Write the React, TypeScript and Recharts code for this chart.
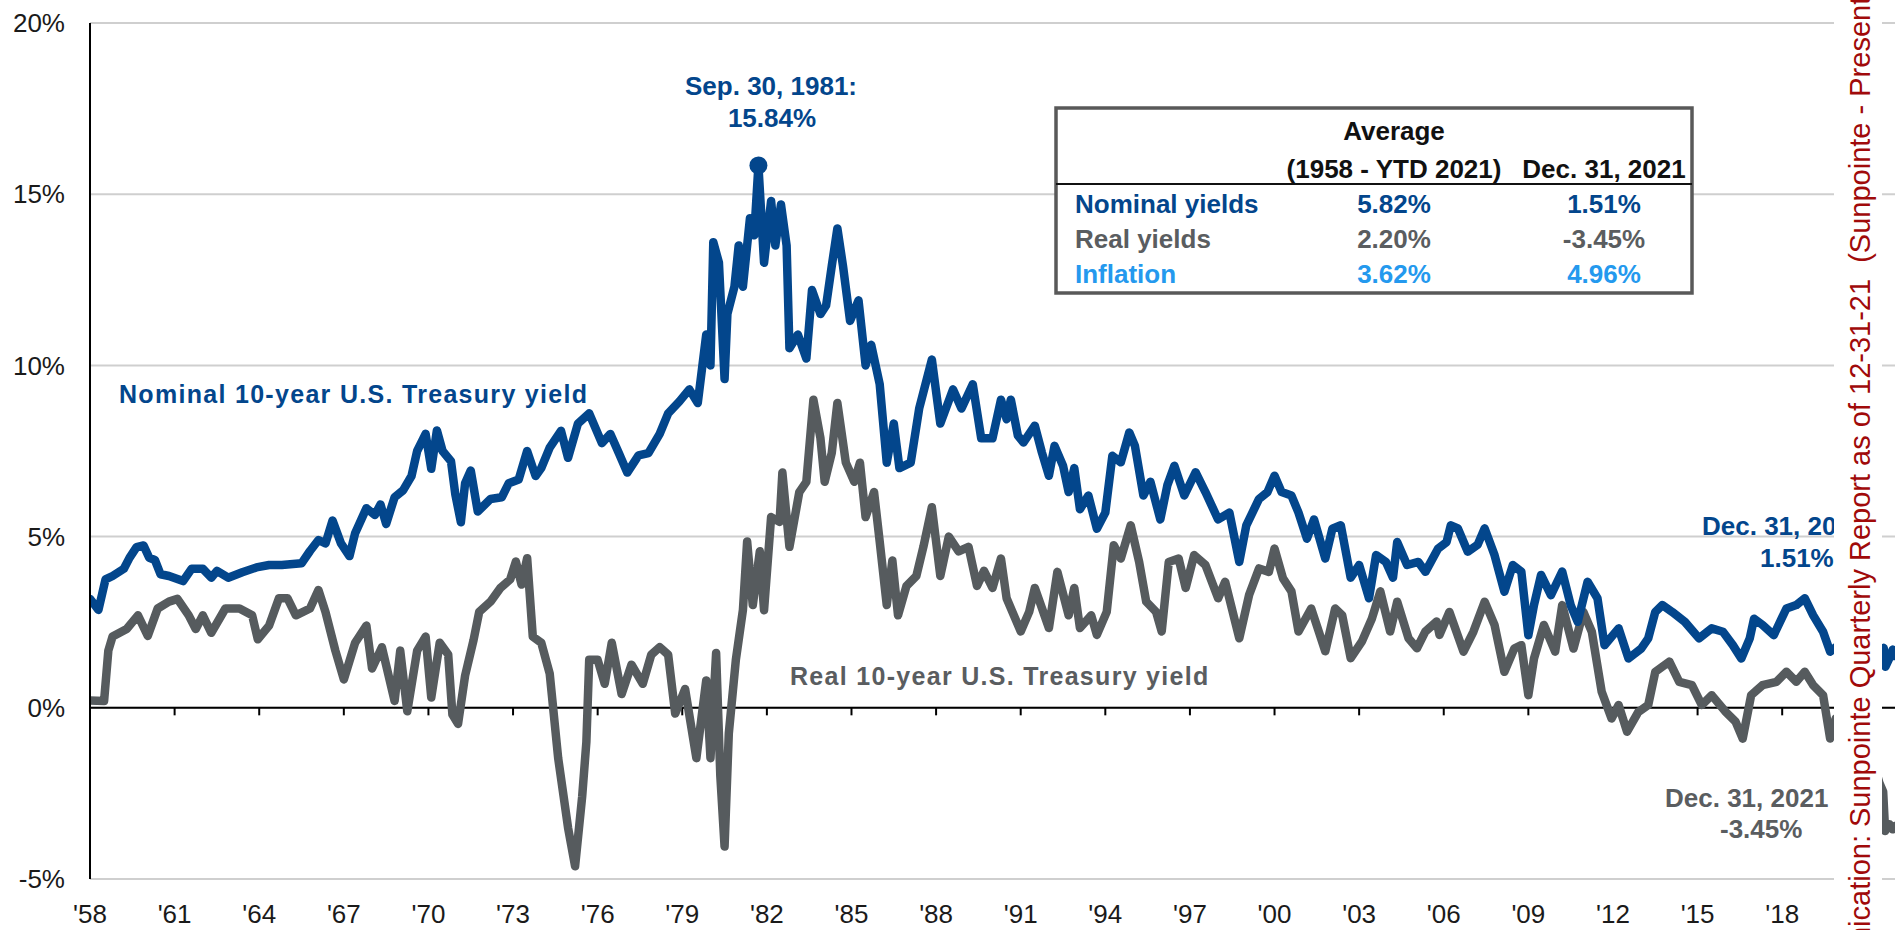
import React from 'react';
import { LineChart, Line, XAxis, YAxis, CartesianGrid, ReferenceLine, ReferenceDot } from 'recharts';

const FONT = 'Liberation Sans, Arial, Helvetica, sans-serif';
const BLUE = '#03468C';
const GRAY = '#565B5E';
const LIGHTBLUE = '#2499EE';
const RED = '#A00A0A';

const xTicks = [1958, 1961, 1964, 1967, 1970, 1973, 1976, 1979, 1982, 1985, 1988, 1991, 1994, 1997, 2000, 2003, 2006, 2009, 2012, 2015, 2018];
const zeroTicks = [1961, 1964, 1967, 1970, 1973, 1976, 1979, 1982, 1985, 1988, 1991, 1994, 1997, 2000, 2003, 2006, 2009, 2012, 2015, 2018];
const yTicks = [-5, 0, 5, 10, 15, 20];

// [year, percent]
const nominalSeries: [number, number][] = [
  [1958.0, 3.18], [1958.3, 2.86], [1958.55, 3.75], [1958.8, 3.85], [1959.2, 4.06], [1959.4, 4.38], [1959.65, 4.69], [1959.9, 4.74],
  [1960.1, 4.38], [1960.3, 4.32], [1960.5, 3.9], [1960.8, 3.85], [1961.3, 3.7], [1961.6, 4.06], [1962.0, 4.06], [1962.3, 3.8],
  [1962.5, 4.0], [1962.9, 3.8], [1963.4, 3.96], [1963.9, 4.1], [1964.35, 4.17], [1964.8, 4.17], [1965.5, 4.22], [1965.8, 4.58],
  [1966.1, 4.9], [1966.35, 4.8], [1966.6, 5.47], [1966.9, 4.8], [1967.2, 4.43], [1967.4, 5.1], [1967.8, 5.83], [1968.1, 5.63],
  [1968.3, 5.94], [1968.5, 5.37], [1968.8, 6.15], [1969.1, 6.35], [1969.4, 6.77], [1969.6, 7.5], [1969.9, 8.0], [1970.1, 6.98],
  [1970.3, 8.1], [1970.5, 7.5], [1970.8, 7.2], [1970.95, 6.25], [1971.15, 5.42], [1971.3, 6.56], [1971.5, 6.93], [1971.75, 5.73],
  [1972.2, 6.1], [1972.6, 6.15], [1972.85, 6.56], [1973.2, 6.67], [1973.5, 7.5], [1973.8, 6.77], [1974.0, 7.0], [1974.3, 7.6],
  [1974.7, 8.09], [1974.95, 7.3], [1975.3, 8.3], [1975.7, 8.6], [1976.15, 7.73], [1976.45, 8.0], [1976.75, 7.44], [1977.05, 6.87],
  [1977.45, 7.37], [1977.8, 7.44], [1978.2, 8.0], [1978.5, 8.6], [1978.9, 8.95], [1979.25, 9.3], [1979.55, 8.9], [1979.85, 10.9],
  [1980.0, 10.0], [1980.1, 13.6], [1980.3, 13.0], [1980.5, 9.6], [1980.6, 11.5], [1980.85, 12.3], [1981.0, 13.5], [1981.15, 12.3],
  [1981.4, 14.3], [1981.55, 13.8], [1981.7, 15.84], [1981.9, 13.0], [1982.15, 14.8], [1982.3, 13.5], [1982.5, 14.7], [1982.7, 13.5],
  [1982.8, 10.5], [1983.1, 10.9], [1983.4, 10.2], [1983.6, 12.2], [1983.9, 11.5], [1984.1, 11.75], [1984.3, 12.9], [1984.5, 14.0],
  [1984.7, 12.9], [1984.95, 11.3], [1985.25, 11.9], [1985.5, 10.0], [1985.7, 10.6], [1986.0, 9.45], [1986.25, 7.16], [1986.5, 8.3],
  [1986.7, 7.0], [1987.1, 7.16], [1987.4, 8.74], [1987.85, 10.17], [1988.15, 8.3], [1988.6, 9.3], [1988.9, 8.74], [1989.3, 9.45],
  [1989.6, 7.87], [1990.0, 7.87], [1990.3, 9.0], [1990.5, 8.43], [1990.65, 9.0], [1990.9, 7.95], [1991.1, 7.75], [1991.5, 8.24],
  [1991.75, 7.46], [1992.0, 6.78], [1992.2, 7.65], [1992.5, 7.07], [1992.7, 6.3], [1992.9, 7.0], [1993.1, 5.8], [1993.4, 6.2],
  [1993.7, 5.23], [1994.0, 5.7], [1994.25, 7.36], [1994.55, 7.17], [1994.85, 8.04], [1995.05, 7.65], [1995.35, 6.2], [1995.6, 6.6],
  [1995.95, 5.5], [1996.2, 6.5], [1996.45, 7.07], [1996.8, 6.2], [1997.2, 6.88], [1997.55, 6.3], [1998.0, 5.5], [1998.4, 5.7],
  [1998.75, 4.26], [1999.0, 5.33], [1999.45, 6.1], [1999.75, 6.3], [2000.0, 6.78], [2000.25, 6.3], [2000.6, 6.2], [2000.85, 5.7],
  [2001.15, 4.94], [2001.4, 5.5], [2001.8, 4.36], [2002.05, 5.23], [2002.35, 5.33], [2002.7, 3.8], [2003.0, 4.17], [2003.35, 3.2],
  [2003.6, 4.46], [2003.95, 4.26], [2004.2, 3.8], [2004.35, 4.84], [2004.7, 4.17], [2005.1, 4.26], [2005.35, 3.97], [2005.8, 4.65],
  [2006.1, 4.84], [2006.25, 5.33], [2006.5, 5.24], [2006.85, 4.56], [2007.2, 4.76], [2007.45, 5.24], [2007.8, 4.46], [2008.15, 3.39],
  [2008.45, 4.17], [2008.75, 3.98], [2009.0, 2.12], [2009.2, 3.0], [2009.45, 3.88], [2009.8, 3.29], [2010.2, 3.98], [2010.5, 3.0],
  [2010.75, 2.51], [2011.1, 3.68], [2011.45, 3.2], [2011.7, 1.83], [2012.2, 2.32], [2012.55, 1.44], [2013.0, 1.73], [2013.25, 2.03],
  [2013.5, 2.8], [2013.75, 3.0], [2014.1, 2.8], [2014.55, 2.51], [2015.05, 2.03], [2015.5, 2.32], [2015.9, 2.22], [2016.25, 1.83],
  [2016.55, 1.44], [2016.85, 2.03], [2017.0, 2.6], [2017.3, 2.42], [2017.7, 2.12], [2018.15, 2.9], [2018.5, 3.0], [2018.8, 3.2],
  [2019.1, 2.7], [2019.45, 2.22], [2019.7, 1.64], [2020.0, 1.83], [2020.2, 1.0], [2020.4, 0.7], [2020.7, 0.7], [2021.0, 1.0],
  [2021.2, 1.6], [2021.45, 1.45], [2021.6, 1.75], [2021.66, 1.2], [2021.8, 1.45], [2021.92, 1.7], [2022.0, 1.51],
];

const realSeries: [number, number][] = [
  [1958.0, 0.21], [1958.5, 0.2], [1958.65, 1.67], [1958.8, 2.08], [1959.3, 2.3], [1959.7, 2.7], [1960.05, 2.1], [1960.4, 2.9],
  [1960.8, 3.1], [1961.1, 3.18], [1961.5, 2.7], [1961.75, 2.3], [1962.0, 2.7], [1962.3, 2.19], [1962.8, 2.9], [1963.3, 2.9],
  [1963.75, 2.7], [1963.95, 2.0], [1964.35, 2.4], [1964.7, 3.2], [1965.0, 3.2], [1965.3, 2.7], [1965.8, 2.9], [1966.1, 3.44],
  [1966.35, 2.8], [1966.7, 1.67], [1967.0, 0.83], [1967.4, 1.9], [1967.8, 2.4], [1968.0, 1.15], [1968.35, 1.77], [1968.8, 0.2],
  [1969.0, 1.67], [1969.25, -0.1], [1969.6, 1.67], [1969.9, 2.08], [1970.1, 0.3], [1970.4, 1.9], [1970.7, 1.56], [1970.85, -0.2],
  [1971.05, -0.47], [1971.3, 0.94], [1971.6, 1.98], [1971.8, 2.8], [1972.2, 3.1], [1972.55, 3.5], [1972.9, 3.75], [1973.1, 4.27],
  [1973.3, 3.6], [1973.5, 4.37], [1973.7, 2.08], [1974.0, 1.9], [1974.3, 1.0], [1974.6, -1.47], [1974.95, -3.5], [1975.2, -4.63],
  [1975.45, -2.6], [1975.6, -1.0], [1975.7, 1.4], [1976.0, 1.4], [1976.25, 0.7], [1976.5, 1.9], [1976.85, 0.4], [1977.2, 1.26],
  [1977.6, 0.7], [1977.9, 1.55], [1978.2, 1.77], [1978.5, 1.55], [1978.75, -0.17], [1979.1, 0.55], [1979.5, -1.47], [1979.85, 0.8],
  [1980.0, -1.47], [1980.2, 1.6], [1980.35, -2.0], [1980.5, -4.05], [1980.65, -0.75], [1980.9, 1.4], [1981.15, 2.85], [1981.3, 4.86],
  [1981.5, 3.0], [1981.75, 4.57], [1981.9, 2.85], [1982.15, 5.57], [1982.45, 5.43], [1982.55, 6.87], [1982.8, 4.7], [1983.15, 6.3],
  [1983.4, 6.6], [1983.65, 9.0], [1983.9, 7.87], [1984.05, 6.6], [1984.3, 7.44], [1984.5, 8.9], [1984.8, 7.16], [1985.1, 6.6],
  [1985.3, 7.16], [1985.5, 5.57], [1985.8, 6.3], [1986.0, 4.86], [1986.25, 3.0], [1986.45, 4.3], [1986.65, 2.7], [1986.95, 3.56],
  [1987.3, 3.85], [1987.55, 4.7], [1987.85, 5.86], [1988.15, 3.85], [1988.45, 5.0], [1988.8, 4.57], [1989.15, 4.7], [1989.45, 3.56],
  [1989.7, 4.0], [1990.0, 3.5], [1990.3, 4.36], [1990.5, 3.2], [1991.0, 2.23], [1991.3, 2.8], [1991.5, 3.5], [1992.0, 2.33],
  [1992.3, 3.97], [1992.7, 2.7], [1992.9, 3.5], [1993.1, 2.33], [1993.5, 2.7], [1993.7, 2.13], [1994.05, 2.8], [1994.3, 4.75],
  [1994.55, 4.36], [1994.9, 5.33], [1995.2, 4.26], [1995.45, 3.1], [1995.8, 2.8], [1996.0, 2.23], [1996.25, 4.26], [1996.6, 4.36],
  [1996.85, 3.5], [1997.15, 4.46], [1997.55, 4.17], [1998.0, 3.2], [1998.25, 3.68], [1998.75, 2.03], [1999.1, 3.3], [1999.45, 4.07],
  [1999.8, 3.97], [2000.0, 4.65], [2000.3, 3.78], [2000.6, 3.4], [2000.85, 2.23], [2001.3, 2.9], [2001.8, 1.65], [2002.15, 2.9],
  [2002.4, 2.7], [2002.7, 1.45], [2003.1, 1.94], [2003.45, 2.6], [2003.75, 3.4], [2004.1, 2.23], [2004.35, 3.1], [2004.75, 2.03],
  [2005.05, 1.74], [2005.35, 2.23], [2005.75, 2.52], [2005.85, 2.13], [2006.2, 2.8], [2006.7, 1.64], [2007.05, 2.22], [2007.45, 3.1],
  [2007.8, 2.42], [2008.15, 1.05], [2008.5, 1.73], [2008.75, 1.83], [2009.0, 0.37], [2009.2, 1.44], [2009.55, 2.42], [2009.95, 1.64],
  [2010.2, 3.0], [2010.6, 1.73], [2010.95, 2.8], [2011.25, 2.22], [2011.6, 0.47], [2011.95, -0.31], [2012.2, 0.08], [2012.5, -0.7],
  [2012.9, -0.12], [2013.25, 0.08], [2013.5, 1.05], [2014.0, 1.35], [2014.35, 0.76], [2014.8, 0.66], [2015.15, 0.08], [2015.5, 0.37],
  [2016.0, -0.12], [2016.35, -0.41], [2016.6, -0.9], [2016.9, 0.37], [2017.3, 0.66], [2017.8, 0.76], [2018.15, 1.05], [2018.5, 0.76],
  [2018.8, 1.05], [2019.1, 0.66], [2019.45, 0.37], [2019.7, -0.9], [2019.9, -0.31], [2020.0, -0.5], [2020.3, -0.6], [2020.6, -0.7],
  [2020.9, -0.9], [2021.2, -1.5], [2021.45, -2.2], [2021.58, -2.45], [2021.65, -3.6], [2021.8, -3.4], [2021.92, -3.55], [2022.0, -3.45],
];

const peakYear = 1981.7;
const peakValue = 15.84;

const tableLabels = ['Nominal yields', 'Real yields', 'Inflation'];
const tableAverages = ['5.82%', '2.20%', '3.62%'];
const tableCurrent = ['1.51%', '-3.45%', '4.96%'];
const tableColors = [BLUE, '#5A5D60', LIGHTBLUE];

const nominalData = nominalSeries.map(([x, v]) => ({ x, v }));
const realData = realSeries.map(([x, v]) => ({ x, v }));

const fmtYear = (v: number) => "'" + String(v % 100).padStart(2, '0');

export default function App() {
  const W = 1897;
  const H = 930;
  return (
    <div style={{ position: 'absolute', left: 0, top: 0, width: W, height: H, background: '#fff', overflow: 'hidden' }}>
      <LineChart width={W} height={H} margin={{ top: 23, right: 2, bottom: 0, left: 0 }}>
        <CartesianGrid horizontal vertical={false} stroke="#CFCFCF" strokeWidth={2} />
        <XAxis
          type="number"
          dataKey="x"
          domain={[1958, 2022]}
          ticks={xTicks}
          interval={0}
          tickFormatter={fmtYear}
          axisLine={false}
          tickLine={false}
          tickSize={0}
          tickMargin={26}
          height={51}
          allowDataOverflow
          tick={{ fontSize: 26, fill: '#1A1A1A', fontFamily: FONT }}
        />
        <YAxis
          type="number"
          domain={[-5, 20]}
          ticks={yTicks}
          interval={0}
          tickFormatter={(v: number) => `${v}%`}
          axisLine={{ stroke: '#000', strokeWidth: 2 }}
          tickLine={false}
          tickSize={0}
          tickMargin={25}
          width={90}
          allowDataOverflow
          tick={{ fontSize: 26, fill: '#1A1A1A', fontFamily: FONT }}
        />
        <ReferenceLine y={0} stroke="#000" strokeWidth={2} />
        {zeroTicks.map((yr) => (
          <ReferenceLine key={yr} segment={[{ x: yr, y: 0 }, { x: yr, y: -0.22 }]} stroke="#000" strokeWidth={2} />
        ))}
        <Line data={realData} dataKey="v" type="linear" stroke={GRAY} strokeWidth={8.5} dot={false} strokeLinejoin="round" strokeLinecap="round" isAnimationActive={false} />
        <Line data={nominalData} dataKey="v" type="linear" stroke={BLUE} strokeWidth={8.5} dot={false} strokeLinejoin="round" strokeLinecap="round" isAnimationActive={false} />
        <ReferenceDot x={peakYear} y={peakValue} r={9} fill={BLUE} stroke="none" />
      </LineChart>
      <svg width={W} height={H} style={{ position: 'absolute', left: 0, top: 0, pointerEvents: 'none' }} fontFamily={FONT}>
        <g fontWeight="bold" fontSize={26} fill={BLUE}>
          <text x={771} y={95} textAnchor="middle">Sep. 30, 1981:</text>
          <text x={772} y={127} textAnchor="middle">15.84%</text>
        </g>
        <text x={119} y={403} fontSize={25} fontWeight="bold" fill={BLUE} letterSpacing={1.3}>Nominal 10-year U.S. Treasury yield</text>
        <text x={790} y={685} fontSize={25} fontWeight="bold" fill="#5A5D60" letterSpacing={1.3}>Real 10-year U.S. Treasury yield</text>
        <g fontWeight="bold" fontSize={26} fill={BLUE}>
          <text x={1702} y={535}>Dec. 31, 2021</text>
          <text x={1760} y={567}>1.51%</text>
        </g>
        <g fontWeight="bold" fontSize={26} fill="#5A5D60">
          <text x={1665} y={807}>Dec. 31, 2021</text>
          <text x={1720} y={838}>-3.45%</text>
        </g>
        {/* table */}
        <rect x={1056} y={108} width={636} height={185} fill="#fff" stroke="#595959" strokeWidth={3.5} />
        <line x1={1056} y1={184} x2={1692} y2={184} stroke="#111" strokeWidth={2} />
        <g fontWeight="bold" fontSize={26} fill="#111">
          <text x={1394} y={140} textAnchor="middle">Average</text>
          <text x={1394} y={178} textAnchor="middle">(1958 - YTD 2021)</text>
          <text x={1604} y={178} textAnchor="middle">Dec. 31, 2021</text>
        </g>
        {tableLabels.map((lab, i) => (
          <g key={lab} fontWeight="bold" fontSize={26} fill={tableColors[i]}>
            <text x={1075} y={213 + i * 35}>{lab}</text>
            <text x={1394} y={213 + i * 35} textAnchor="middle">{tableAverages[i]}</text>
            <text x={1604} y={213 + i * 35} textAnchor="middle">{tableCurrent[i]}</text>
          </g>
        ))}
        {/* right-hand strip with vertical caption */}
        <rect x={1834} y={0} width={48} height={H} fill="#fff" />
        <text transform="translate(1870, 835) rotate(-90)" fontSize={29} fill={RED} textAnchor="end">Communication:</text>
        <text transform="translate(1870, 827) rotate(-90)" fontSize={29} fill={RED} xmlSpace="preserve">Sunpointe Quarterly Report as of 12-31-21  (Sunpointe - Presentation)</text>
      </svg>
    </div>
  );
}
